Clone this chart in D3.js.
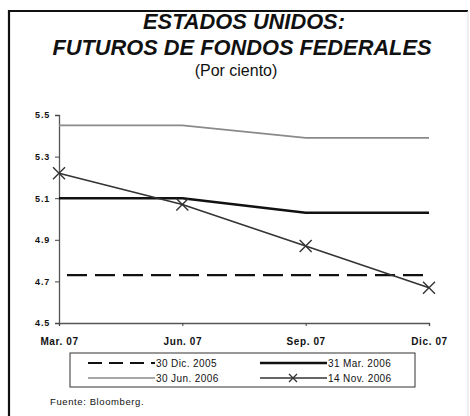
<!DOCTYPE html>
<html>
<head>
<meta charset="utf-8">
<script src="https://cdn.jsdelivr.net/npm/d3@7"></script>
<style>
  body { margin: 0; background: #fff; }
  text { font-family: "Liberation Sans", Arial, sans-serif; fill: #111; }
</style>
</head>
<body>
<div id="chart"></div>
<script>
// Data
var months = ["Mar. 07", "Jun. 07", "Sep. 07", "Dic. 07"];
var dic2005 = [4.73, 4.73, 4.73, 4.73];
var mar2006 = [5.10, 5.10, 5.03, 5.03];
var jun2006 = [5.45, 5.45, 5.39, 5.39];
var nov2006 = [5.22, 5.07, 4.87, 4.67];
var yTicks = [4.5, 4.7, 4.9, 5.1, 5.3, 5.5];

var series = [
  {name: "30 Dic. 2005", values: dic2005, color: "#111", width: 2.2, dash: "20,8", marker: false},
  {name: "31 Mar. 2006", values: mar2006, color: "#111", width: 2.6, dash: null, marker: false},
  {name: "30 Jun. 2006", values: jun2006, color: "#8a8a8a", width: 1.6, dash: null, marker: false},
  {name: "14 Nov. 2006", values: nov2006, color: "#333", width: 1.6, dash: null, marker: true}
];

var W = 470, H = 416;
var svg = d3.select("#chart").append("svg")
  .attr("width", W)
  .attr("height", H);

// frame
svg.append("path")
  .attr("d", "M9,416 L9,11 L468,11")
  .attr("fill", "none")
  .attr("stroke", "#111")
  .attr("stroke-width", 2.2);
svg.append("line")
  .attr("x1", 468).attr("x2", 468).attr("y1", 11).attr("y2", 416)
  .attr("stroke", "#ddd").attr("stroke-width", 1);

// titles
svg.append("text")
  .attr("x", 244).attr("y", 29)
  .attr("text-anchor", "middle")
  .style("font-size", "21.8px").style("font-weight", "bold").style("font-style", "italic")
  .text("ESTADOS UNIDOS:");
svg.append("text")
  .attr("x", 242).attr("y", 54.5)
  .attr("text-anchor", "middle")
  .style("font-size", "21.8px").style("font-weight", "bold").style("font-style", "italic")
  .text("FUTUROS DE FONDOS FEDERALES");
svg.append("text")
  .attr("x", 236).attr("y", 75.5)
  .attr("text-anchor", "middle")
  .style("font-size", "16px")
  .text("(Por ciento)");

// scales
var x = d3.scalePoint().domain(months).range([59, 429]);
var y = d3.scaleLinear().domain([4.5, 5.5]).range([323, 115]);

// y axis
var yAxis = svg.append("g")
  .attr("transform", "translate(59,0)")
  .call(d3.axisLeft(y).tickValues(yTicks).tickSize(4).tickPadding(5)
    .tickFormat(d3.format(".1f")));
yAxis.select(".domain").attr("stroke", "#555").attr("stroke-width", 1.3);
yAxis.selectAll(".tick line").attr("stroke", "#444");
yAxis.selectAll("text")
  .style("font-size", "9px").style("font-weight", "bold")
  .style("letter-spacing", "0.8px").attr("fill", "#222");

// x axis
var xAxis = svg.append("g")
  .attr("transform", "translate(0,323)")
  .call(d3.axisBottom(x).tickSize(3).tickPadding(12));
xAxis.select(".domain").attr("stroke", "#555").attr("stroke-width", 1.3);
xAxis.selectAll(".tick line").attr("stroke", "#444");
xAxis.selectAll("text")
  .style("font-size", "10px").style("font-weight", "bold")
  .style("letter-spacing", "0.6px").attr("fill", "#222");

// lines
var line = d3.line()
  .x(function(d, i) { return x(months[i]); })
  .y(function(d) { return y(d); });

series.forEach(function(s) {
  svg.append("path")
    .datum(s.values)
    .attr("d", line)
    .attr("fill", "none")
    .attr("stroke", s.color)
    .attr("stroke-width", s.width)
    .attr("stroke-dasharray", s.dash)
    .attr("stroke-dashoffset", s.dash ? 20 : null);
  if (s.marker) {
    svg.selectAll(null)
      .data(s.values)
      .enter()
      .append("path")
      .attr("d", function(d, i) {
        var cx = x(months[i]), cy = y(d), r = 6;
        return "M" + (cx - r) + "," + (cy - r) + "L" + (cx + r) + "," + (cy + r) +
               "M" + (cx - r) + "," + (cy + r) + "L" + (cx + r) + "," + (cy - r);
      })
      .attr("stroke", s.color)
      .attr("stroke-width", 1.4);
  }
});

// legend
svg.append("rect")
  .attr("x", 70).attr("y", 353)
  .attr("width", 345).attr("height", 34)
  .attr("fill", "none")
  .attr("stroke", "#333").attr("stroke-width", 1);

var legend = svg.selectAll(".legend")
  .data(series)
  .enter()
  .append("g")
  .attr("class", "legend")
  .attr("transform", function(d, i) {
    var lx = (i % 2 === 0) ? 88 : 260;
    var ly = (i < 2) ? 363 : 378;
    return "translate(" + lx + "," + ly + ")";
  });

legend.append("line")
  .attr("x1", 0).attr("x2", 67)
  .attr("stroke", function(d) { return d.color; })
  .attr("stroke-width", function(d) { return d.width; })
  .attr("stroke-dasharray", function(d) { return d.dash ? "14,7" : null; });

legend.filter(function(d) { return d.marker; })
  .append("path")
  .attr("d", "M29,-4L37,4M29,4L37,-4")
  .attr("stroke", "#333").attr("stroke-width", 1.3);

legend.append("text")
  .attr("x", 68).attr("y", 3.5)
  .style("font-size", "10px")
  .style("letter-spacing", "0.4px")
  .text(function(d) { return d.name; });

// source
svg.append("text")
  .attr("x", 50).attr("y", 405)
  .style("font-size", "9.5px")
  .style("letter-spacing", "0.6px")
  .text("Fuente: Bloomberg.");
</script>
</body>
</html>
